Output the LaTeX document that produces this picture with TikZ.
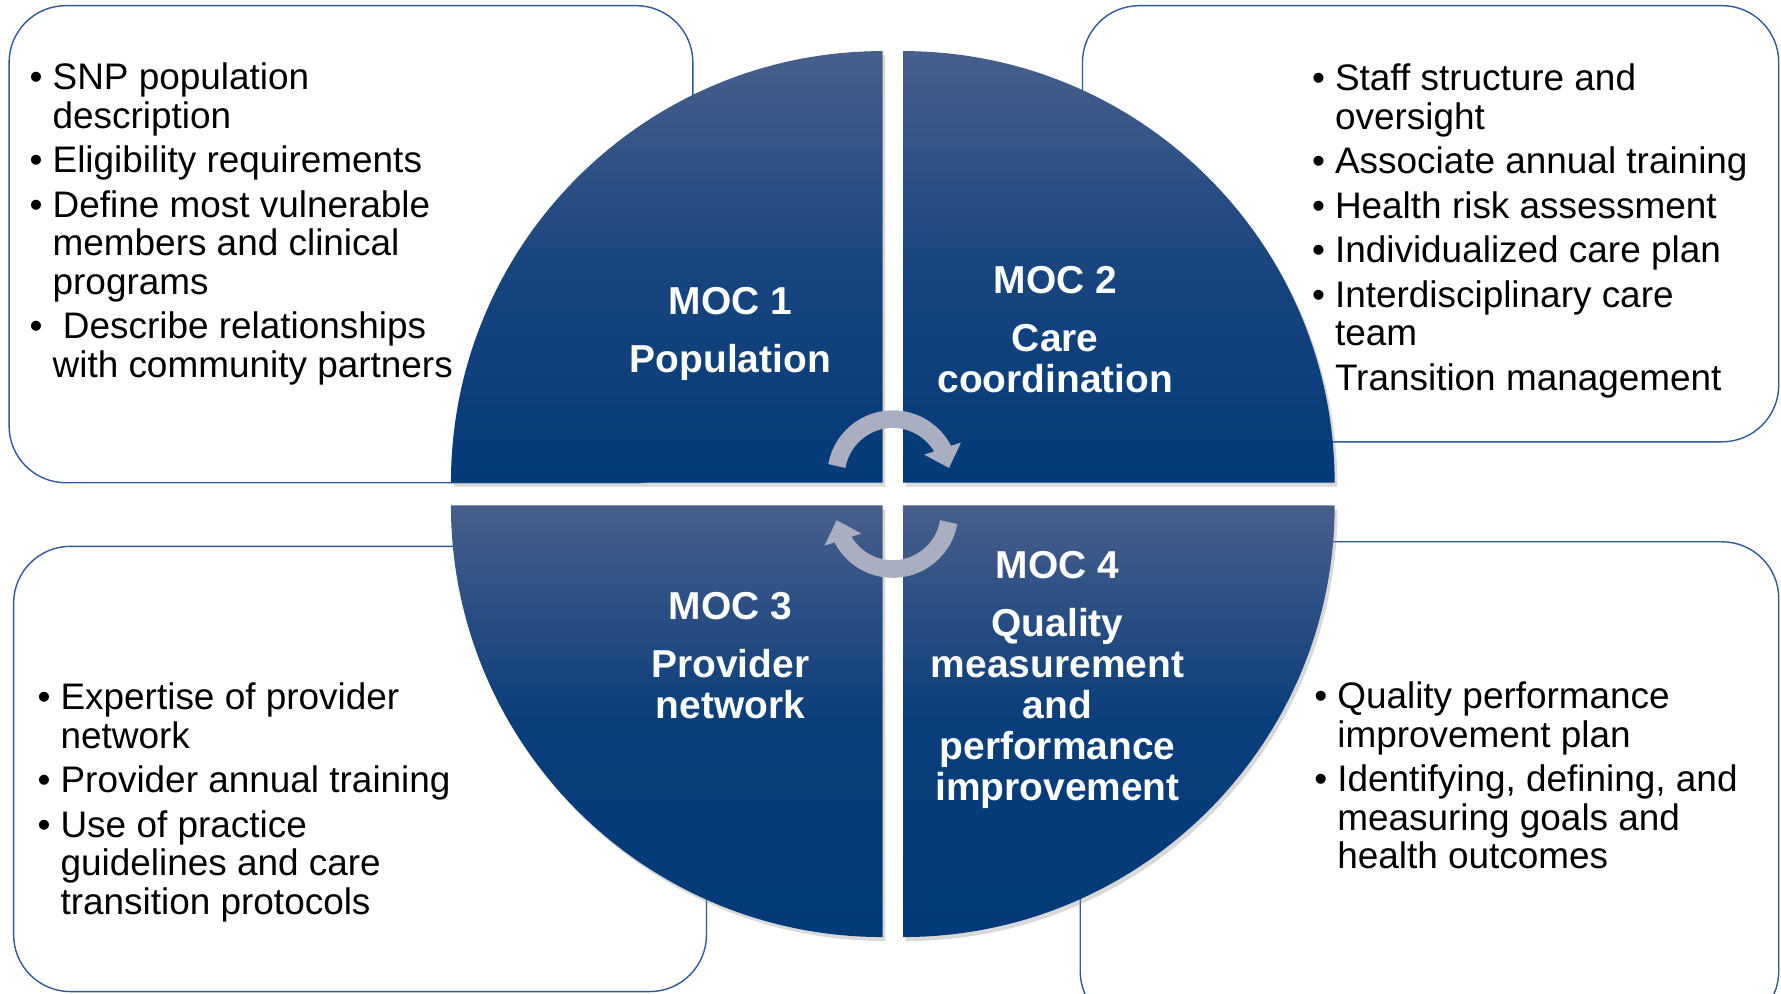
\documentclass[tikz,border=0pt]{standalone}
\usepackage{fontspec}
\setmainfont{Liberation Sans}
\usetikzlibrary{arrows.meta,bending,shadows}

\definecolor{mocsteel}{HTML}{485F8C}
\definecolor{mocnavy}{HTML}{033A79}
\definecolor{mocline}{HTML}{2F5A96}
\definecolor{mocarrow}{HTML}{A9AFC0}

\newcommand{\titlefont}{\fontsize{19.5}{20.5}\selectfont\bfseries}
\newcommand{\bodyfont}{\fontsize{18.5}{19.3}\selectfont}
\newcommand{\bul}{\llap{•\hspace{5pt}}}

\begin{document}
\begin{tikzpicture}[scale=1,
	infobox/.style={draw=mocline, line width=0.7pt, rounded corners=1cm, fill=white},
	quad/.style={drop shadow={opacity=0.3, shadow xshift=0.05cm, shadow yshift=-0.07cm}},
	toptone/.style={top color=mocsteel, bottom color=mocnavy, middle color=mocnavy!70!mocsteel},
	lowtone/.style={top color=mocsteel, bottom color=mocnavy, middle color=mocnavy!90!mocsteel},
	title/.style={text=white, font=\titlefont, align=center, anchor=north, inner sep=0pt},
	bullets/.style={font=\bodyfont, align=left, anchor=north west, inner sep=0pt},
	turn/.style={line width=0.31cm, draw=mocarrow, -{Triangle[width=0.66cm, length=0.36cm]}}
]
	\useasboundingbox (0,0) rectangle (31.36,17.5);
	\clip (0,0) rectangle (31.36,17.5);

	% outer boxes
	\draw [infobox] (0.16,9.0) rectangle (12.2,17.4);
	\draw [infobox] (19.06,9.72) rectangle (31.32,17.4);
	\draw [infobox] (0.24,0.04) rectangle (12.44,7.88);
	\draw [infobox] (19.02,-0.6) rectangle (31.32,7.96);

	% the four quarters
	\path [quad, toptone] (15.54,9.0) -- ++(-7.6,0) arc (180:90:7.6) -- cycle;
	\path [quad, toptone] (15.9,9.0) -- ++(0,7.6) arc (90:0:7.6) -- cycle;
	\path [quad, lowtone] (15.54,8.6) -- ++(0,-7.6) arc (270:180:7.6) -- cycle;
	\path [quad, lowtone] (15.9,8.6) -- ++(7.6,0) arc (0:-90:7.6) -- cycle;

	\node [title] (moc1) at (12.86,12.44) {MOC 1\\[8.5pt]Population};
	\node [title] (moc2) at (18.58,12.82) {MOC 2\\[8.5pt]Care\\coordination};
	\node [title] (moc3) at (12.86,7.08) {MOC 3\\[8.5pt]Provider\\network};
	\node [title] (moc4) at (18.62,7.8) {MOC 4\\[8.5pt]Quality\\measurement\\and\\performance\\improvement};

	% cycle arrows
	\draw [turn] ([shift={(170:1.0)}]15.72,9.12) arc (170:8:1.0);
	\draw [turn] ([shift={(-10:1.0)}]15.72,8.48) arc (-10:-172:1.0);

	% lists
	\node [bullets] (poplist) at (0.92,16.4) {\bul SNP population\\description\\[3pt]
		\bul Eligibility requirements\\[3pt]
		\bul Define most vulnerable\\members and clinical\\programs\\[3pt]
		\bul\ Describe relationships\\with community partners};
	\node [bullets] (carelist) at (23.5,16.38) {\bul Staff structure and\\oversight\\[3pt]
		\bul Associate annual training\\[3pt]
		\bul Health risk assessment\\[3pt]
		\bul Individualized care plan\\[3pt]
		\bul Interdisciplinary care\\team\\[3pt]
		Transition management};
	\node [bullets] (provlist) at (1.06,5.48) {\bul Expertise of provider\\network\\[3pt]
		\bul Provider annual training\\[3pt]
		\bul Use of practice\\guidelines and care\\transition protocols};
	\node [bullets] (qualist) at (23.54,5.5) {\bul Quality performance\\improvement plan\\[3pt]
		\bul Identifying, defining, and\\measuring goals and\\health outcomes};
\end{tikzpicture}
\end{document}
